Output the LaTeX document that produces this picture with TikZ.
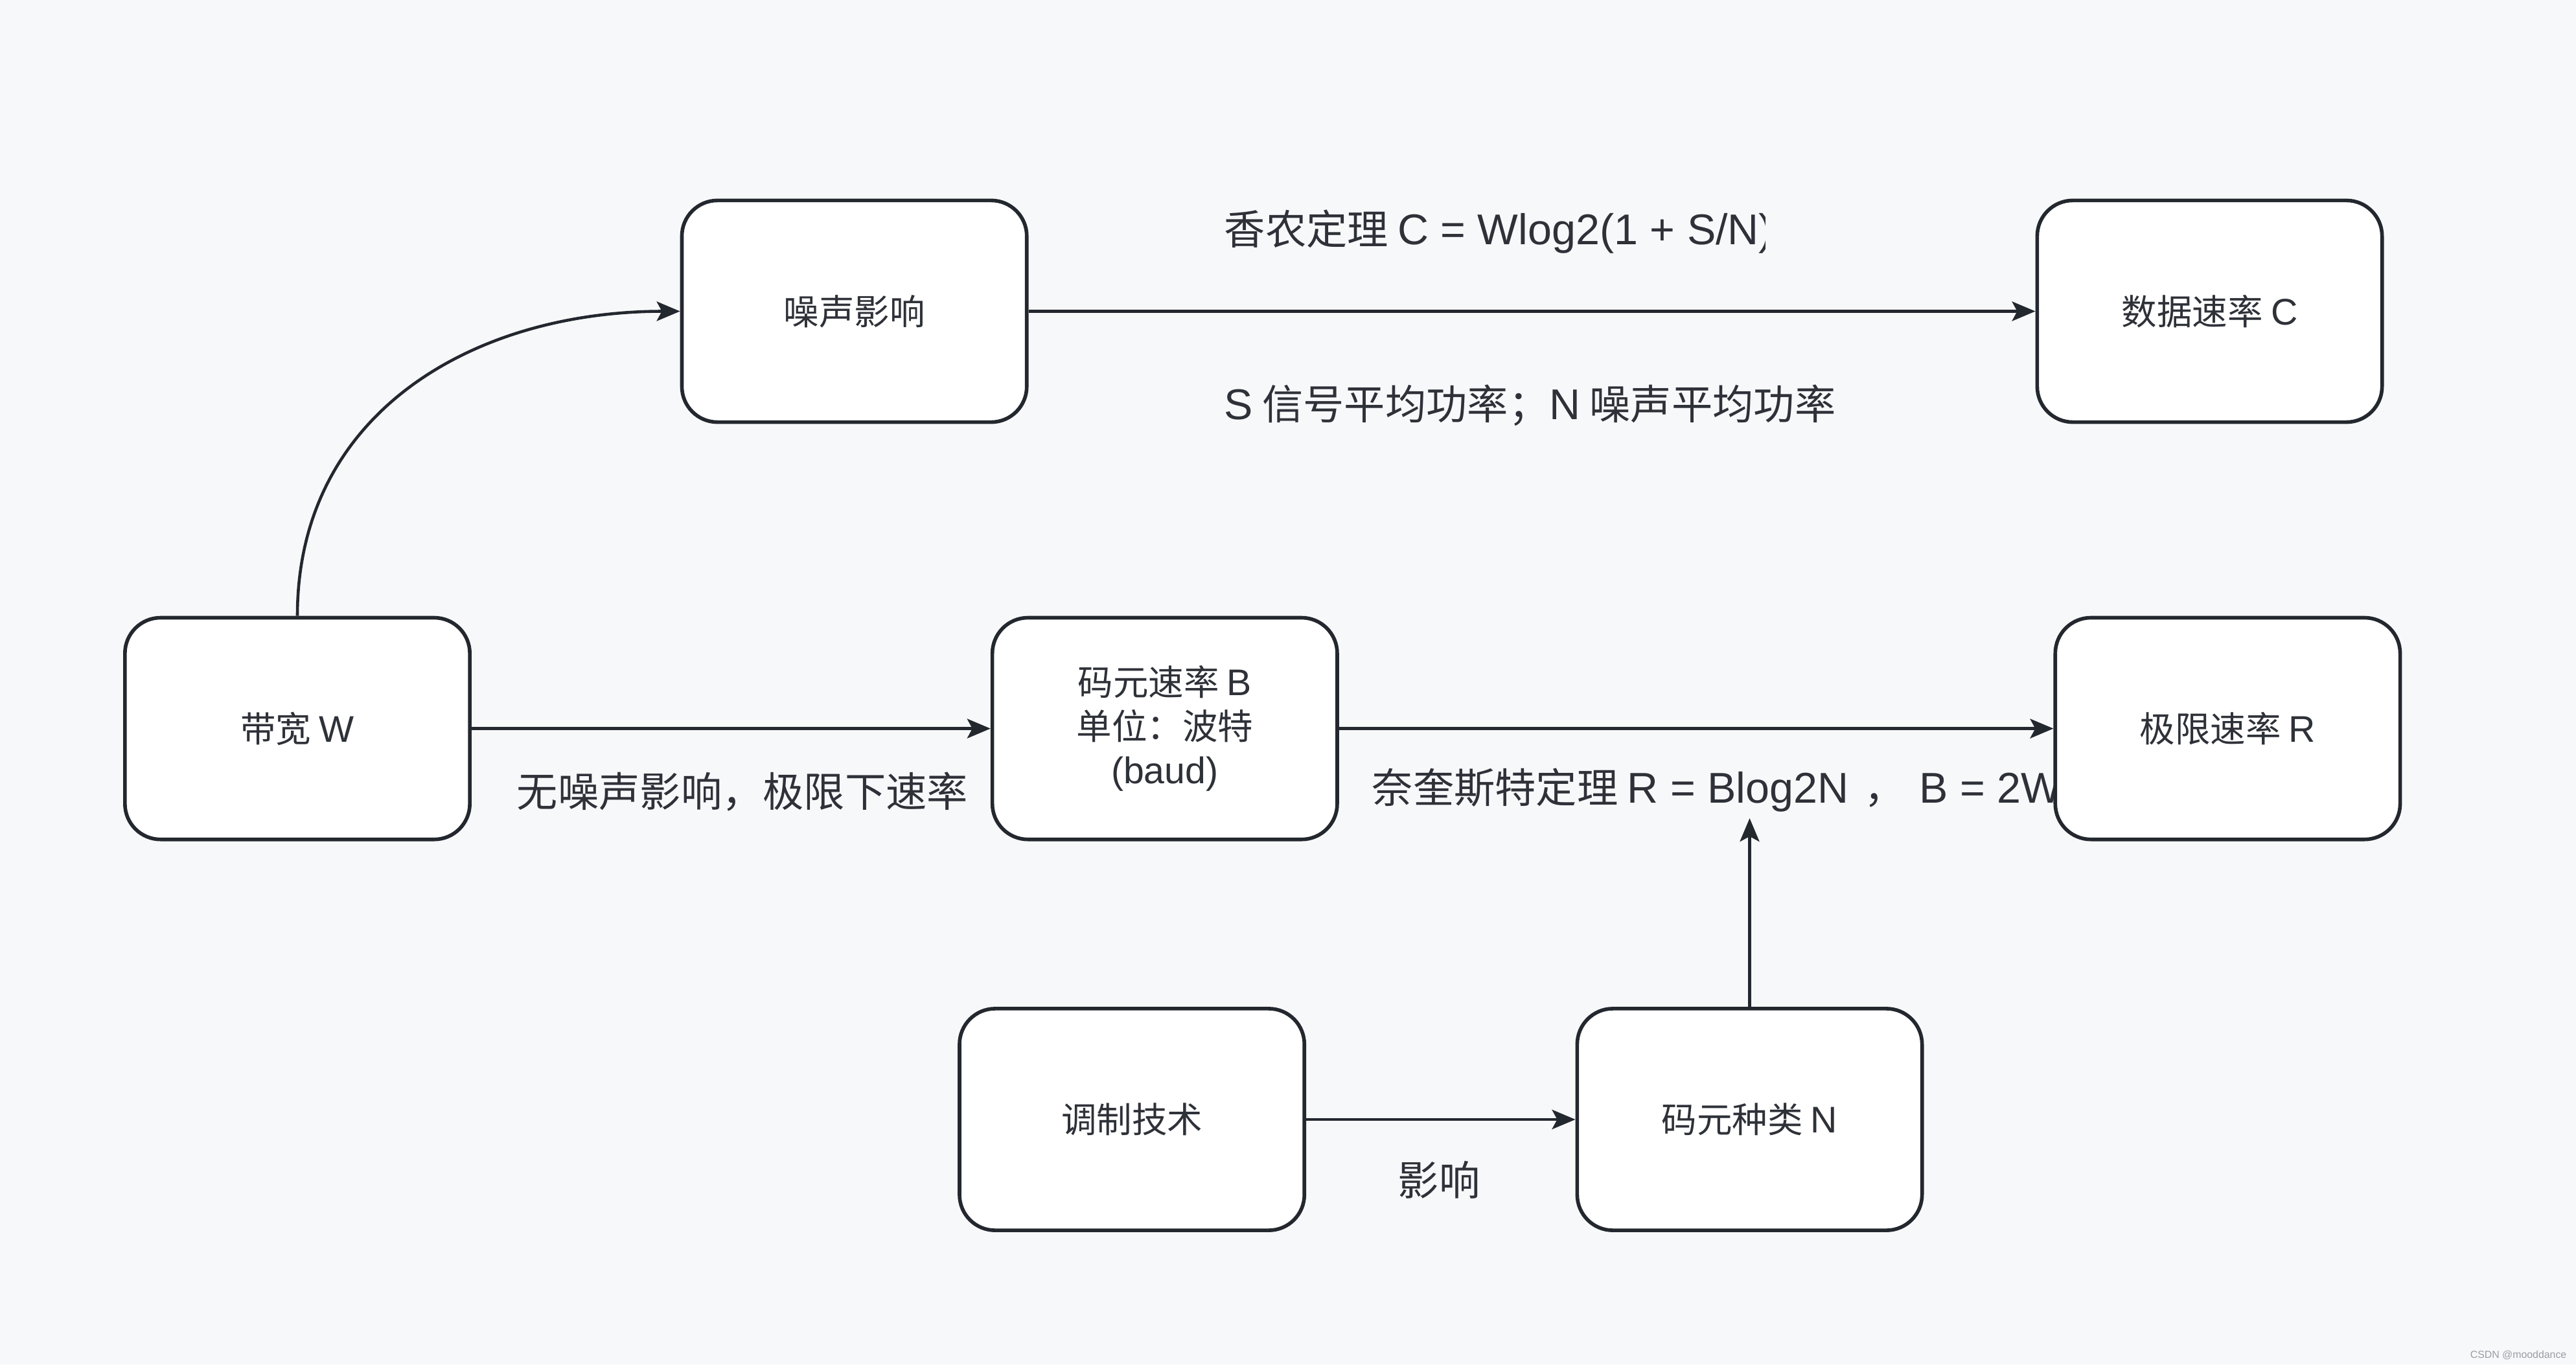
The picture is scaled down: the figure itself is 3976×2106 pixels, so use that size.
\documentclass[tikz,border=0pt]{standalone}
\usepackage{fontspec}
\setmainfont{Noto Sans CJK SC}
\newfontfamily\lat[Scale=1.05]{Liberation Sans}
\usetikzlibrary{arrows.meta}
\definecolor{bgc}{HTML}{F7F8FA}
\definecolor{ln}{HTML}{23272E}
\definecolor{tx}{HTML}{2E3138}
\definecolor{wm}{HTML}{9A9DA3}
\begin{document}
\begin{tikzpicture}[x=0.01cm,y=-0.01cm,
  box/.style={draw=ln, line width=1.6pt, fill=white, rounded corners=0.55cm,
    minimum width=5.32cm, minimum height=3.42cm, inner sep=0pt, align=center,
    font=\fontsize{15.5}{19.4}\selectfont, text=tx},
  lbl/.style={inner sep=0pt, font=\fontsize{18}{22}\selectfont, text=tx},
  conn/.style={draw=ln, line width=1.3pt,
    -{Stealth[length=0.36cm,width=0.3cm,inset=0.08cm]}}]
\fill[bgc] (0,0) rectangle (3976,2106);
\useasboundingbox (0,0) rectangle (3976,2106);

% labels drawn first (some are partly covered by boxes)
\begin{scope}
  \clip (1870,250) rectangle (2724,470);
  \node[lbl,anchor=west] (shannon) at (1889,358) {香农定理 {\lat C = Wlog2(1 + S/N)}};
\end{scope}
\node[lbl,anchor=west] (sn) at (1889,626) {{\lat S} 信号平均功率；{\lat N} 噪声平均功率};
\node[lbl] (nonoise) at (1146,1222) {无噪声影响，极限下速率};
\node[lbl,anchor=west] (nyq) at (2117,1220) {奈奎斯特定理 {\lat R = Blog2N}\hspace{0.24cm}，\hspace{0.22cm}{\lat B = 2W}};
\node[lbl] (infl) at (2221,1821) {影响};

% boxes
\node[box] (noise) at (1318.6,480.5) {噪声影响};
\node[box] (dataC) at (3410.5,480.5) {数据速率 {\lat C}};
\node[box] (bw) at (459,1124.6) {带宽 {\lat W}};
\node[box] (baud) at (1797.8,1124.6) {码元速率 {\lat B}\\单位：波特\\{\lat (baud)}};
\node[box] (limR) at (3438.4,1124.6) {极限速率 {\lat R}};
\node[box] (mod) at (1747.1,1728) {调制技术};
\node[box] (kind) at (2700.5,1728) {码元种类 {\lat N}};
\coordinate (nyqtip) at (2700.5,1263);

% connectors
\draw[conn] (bw.north) .. controls (459,634) and (735,480.5) .. (noise.west);
\draw[conn] (noise) -- (dataC);
\draw[conn] (bw) -- (baud);
\draw[conn] (baud) -- (limR);
\draw[conn] (mod) -- (kind);
\draw[conn] (kind.north) -- (nyqtip);

% watermark
\node[anchor=east, inner sep=0pt, text=wm, font=\lat\fontsize{4.3}{5}\selectfont] (wmark) at (3962,2092) {CSDN @mooddance};
\end{tikzpicture}
\end{document}
